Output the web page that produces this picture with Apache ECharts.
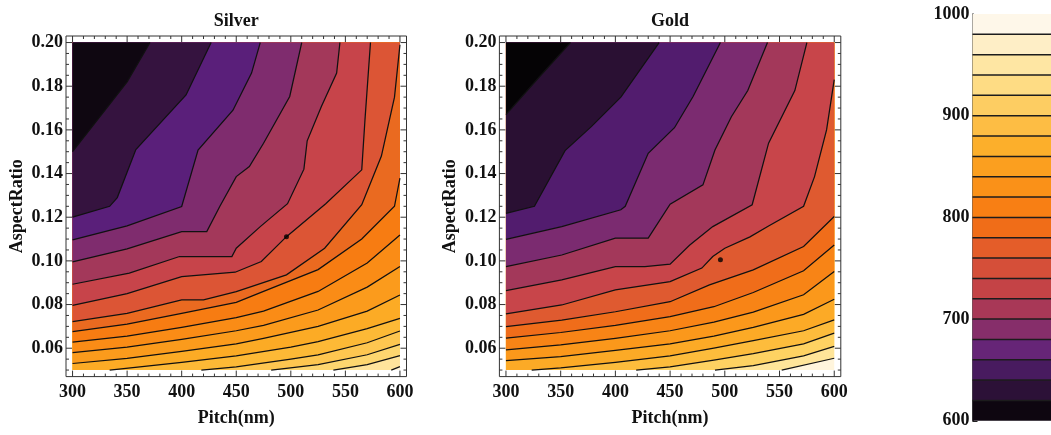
<!DOCTYPE html>
<html>
<head>
<meta charset="utf-8">
<script src="https://cdn.jsdelivr.net/npm/echarts@6/dist/echarts.min.js"></script>
<style>
  html, body { margin: 0; padding: 0; background: #fff; }
  #chart { width: 1051px; height: 435px; }
</style>
</head>
<body>
<div id="chart"></div>
<script>
// ---- axis ticks ----
const pitchMajor = [300, 350, 400, 450, 500, 550, 600];
const pitchMinor = [310, 320, 330, 340, 360, 370, 380, 390, 410, 420, 430, 440, 460, 470, 480, 490,
                    510, 520, 530, 540, 560, 570, 580, 590];
const ratioMajor = [0.06, 0.08, 0.10, 0.12, 0.14, 0.16, 0.18, 0.20];
const ratioMinor = [0.05, 0.055, 0.065, 0.07, 0.075, 0.085, 0.09, 0.095, 0.105, 0.11, 0.115,
                    0.125, 0.13, 0.135, 0.145, 0.15, 0.155, 0.165, 0.17, 0.175, 0.185, 0.19, 0.195];
const legendTicks = [600, 700, 800, 900, 1000];

// ---- contour lines: [pitch, aspect ratio] vertices, one list per level ----
const silverLines = [
  [[300,0.150],[350,0.182],[371,0.200]],
  [[300,0.120],[334,0.125],[341,0.129],[358,0.151],[404,0.176],[427,0.200]],
  [[300,0.1096],[350,0.1160],[400,0.1249],[415,0.1508],[447,0.1690],[464,0.1860],[472,0.200]],
  [[300,0.0995],[350,0.1055],[400,0.1134],[423,0.1134],[435,0.1250],[450,0.1386],[462,0.1432],[475,0.1539],[499,0.1753],[510,0.200]],
  [[300,0.0893],[352,0.0944],[398,0.1020],[446,0.1020],[450,0.1058],[472,0.1157],[497,0.1262],[512,0.1420],[515,0.1550],[528,0.1707],[542,0.1860],[545,0.200]],
  [[300,0.0796],[350,0.0850],[400,0.0928],[449,0.0948],[473,0.0997],[496,0.1111],[532,0.1262],[565,0.1417],[568,0.1650],[573,0.200]],
  [[300,0.0722],[350,0.0760],[400,0.0821],[420,0.0821],[450,0.0859],[496,0.0936],[531,0.1058],[565,0.1257],[583,0.1480],[595,0.1750],[600,0.1990]],
  [[300,0.0676],[350,0.0710],[400,0.0760],[450,0.0810],[475,0.0860],[525,0.0960],[565,0.1100],[595,0.1250],[600,0.1379]],
  [[300,0.0628],[350,0.0655],[400,0.0695],[450,0.0740],[475,0.0770],[525,0.0860],[570,0.0990],[600,0.1119]],
  [[300,0.0580],[350,0.0605],[400,0.0640],[450,0.0680],[475,0.0705],[525,0.0775],[570,0.0880],[600,0.0974]],
  [[300,0.0530],[350,0.0553],[400,0.0585],[450,0.0620],[475,0.0645],[525,0.0700],[570,0.0770],[600,0.0844]],
  [[334,0.050],[400,0.0535],[450,0.0565],[500,0.0605],[525,0.0630],[570,0.0690],[600,0.0737]],
  [[418,0.050],[450,0.0515],[500,0.0550],[525,0.0570],[570,0.0625],[600,0.0679]],
  [[482,0.050],[525,0.0525],[570,0.0570],[600,0.0618]],
  [[539,0.050],[570,0.0525],[600,0.0566]],
  [[592,0.050],[600,0.0516]]
];

const goldLines = [
  [[300,0.167],[330,0.184],[359,0.200]],
  [[300,0.1218],[326,0.1250],[354,0.1505],[378,0.1615],[405,0.1750],[440,0.200]],
  [[300,0.1099],[351,0.1157],[405,0.1234],[409,0.1250],[430,0.1493],[454,0.1610],[471,0.1753],[496,0.200]],
  [[300,0.0974],[351,0.1027],[400,0.1104],[430,0.1104],[450,0.1260],[480,0.1348],[491,0.1508],[506,0.1660],[521,0.1780],[539,0.200]],
  [[300,0.0864],[351,0.0913],[400,0.0974],[427,0.0974],[450,0.0985],[468,0.1073],[489,0.1157],[525,0.1257],[540,0.1539],[564,0.1780],[575,0.200]],
  [[300,0.0757],[351,0.0798],[400,0.0867],[450,0.0905],[479,0.0967],[489,0.1020],[500,0.1058],[523,0.1110],[540,0.1160],[572,0.1250],[582,0.1386],[593,0.1600],[600,0.1830]],
  [[300,0.0699],[351,0.0729],[400,0.0767],[450,0.0813],[486,0.0890],[526,0.0959],[572,0.1066],[600,0.1203]],
  [[300,0.0646],[350,0.0672],[400,0.0705],[450,0.0745],[490,0.0790],[526,0.0855],[572,0.0955],[600,0.1073]],
  [[300,0.0592],[350,0.0615],[400,0.0645],[450,0.0680],[490,0.0720],[526,0.0765],[572,0.0845],[600,0.0951]],
  [[300,0.0543],[350,0.0562],[400,0.0590],[450,0.0620],[490,0.0655],[526,0.0695],[572,0.0755],[600,0.0824]],
  [[323.5,0.050],[350,0.0510],[400,0.0535],[450,0.0565],[490,0.0600],[526,0.0635],[572,0.0680],[600,0.0730]],
  [[419,0.050],[450,0.0515],[490,0.0545],[526,0.0575],[572,0.0620],[600,0.0669]],
  [[491,0.050],[526,0.0520],[572,0.0565],[600,0.0608]],
  [[552,0.050],[600,0.0554]]
];

// marked points
const silverDot = [[496, 0.111]];
const goldDot = [[496, 0.1005]];

// ---- colours ----
const silverBands = ['#0f0711','#35133f','#5a1f7a','#7f2c6e','#a3385a','#c7444a','#dc5535','#ea6a20',
  '#f77c12','#fa8c16','#fb9b1c','#fcab25','#fdb936','#fec650','#fed66f','#ffe49c','#fff3d6'];
const goldBands = ['#050305','#2a1033','#521c6e','#7b2b70','#a3385a','#c8454a','#df5a30','#f06d1a',
  '#f88416','#fb981b','#fcaa26','#fdbc3c','#fed262','#ffe599','#fff5dc'];

const legendLevels = [600,620,640,660,680,700,720,740,760,780,800,820,840,860,880,900,920,940,960,980,1000];
const legendColors = ['#0e0610','#2c1137','#481b5f','#662577','#862e6a','#a83857','#c44346','#d54f39',
  '#e45d29','#f06d18','#f87f14','#fa9118','#fb9f1f','#fcaf2b','#fdbd44','#fdcd62','#fedc84','#fee6a3',
  '#feeec6','#fef7e9'];

// ---- layout constants ----
const P0 = 300, P1 = 600, R0 = 0.05, R1 = 0.20;          // data extent
const PX0 = 294, PX1 = 606, RY0 = 0.047, RY1 = 0.203;     // frame extent
const FONT = 'Liberation Serif';
const labelStyle = { fontFamily: FONT, fontWeight: 'bold', fontSize: 18, color: '#111' };

// region on the low-value (upper-left) side of a contour line
function regionAbove(line) {
  const pts = line.slice();
  const s = line[0], e = line[line.length - 1];
  if (e[0] >= P1 && e[1] < R1) pts.push([P1, R1]);
  pts.push([P0, R1]);
  if (s[0] > P0) pts.push([P0, R0]);
  return pts;
}

function contourSeries(gi, lines, bands) {
  return {
    type: 'custom', xAxisIndex: gi * 2, yAxisIndex: gi, silent: true, z: 2,
    data: [[0]],
    renderItem: function (params, api) {
      const c = p => api.coord(p);
      const children = [];
      const n = lines.length;
      children.push({ type: 'polygon',
        shape: { points: [[P0, R0], [P1, R0], [P1, R1], [P0, R1]].map(c) },
        style: { fill: bands[n] } });
      for (let i = n - 1; i >= 0; i--) {
        children.push({ type: 'polygon', shape: { points: regionAbove(lines[i]).map(c) },
          style: { fill: bands[i] } });
      }
      for (let i = 0; i < n; i++) {
        children.push({ type: 'polyline', shape: { points: lines[i].map(c) },
          style: { stroke: '#111', lineWidth: 1.25, fill: null } });
      }
      return { type: 'group', children: children };
    }
  };
}

// frame with inward ticks on all four sides
function frameSeries(gi) {
  return {
    type: 'custom', xAxisIndex: gi * 2, yAxisIndex: gi, silent: true, z: 5,
    data: [[0]],
    renderItem: function (params, api) {
      const bl = api.coord([PX0, RY0]), tr = api.coord([PX1, RY1]);
      const L = bl[0], R = tr[0], B = bl[1], T = tr[1];
      const st = { stroke: '#333', lineWidth: 1 };
      const kids = [{ type: 'rect', shape: { x: L, y: T, width: R - L, height: B - T },
        style: { stroke: '#333', lineWidth: 1, fill: null } }];
      const xt = (v, len) => {
        const x = api.coord([v, RY0])[0];
        kids.push({ type: 'line', shape: { x1: x, y1: B, x2: x, y2: B - len }, style: st });
        kids.push({ type: 'line', shape: { x1: x, y1: T, x2: x, y2: T + len }, style: st });
      };
      const yt = (v, len) => {
        const y = api.coord([PX0, v])[1];
        kids.push({ type: 'line', shape: { x1: L, y1: y, x2: L + len, y2: y }, style: st });
        kids.push({ type: 'line', shape: { x1: R, y1: y, x2: R - len, y2: y }, style: st });
      };
      pitchMajor.forEach(v => xt(v, 6));
      pitchMinor.forEach(v => xt(v, 3));
      ratioMajor.forEach(v => yt(v, 6));
      ratioMinor.forEach(v => yt(v, 3));
      return { type: 'group', children: kids };
    }
  };
}

function panelAxes(gi, title) {
  const base = { gridIndex: gi, type: 'value', min: PX0, max: PX1,
    splitLine: { show: false }, axisLine: { show: false }, axisTick: { show: false } };
  return {
    x: [
      Object.assign({}, base, { position: 'bottom',
        axisLabel: Object.assign({ customValues: pitchMajor, margin: 7 }, labelStyle),
        name: 'Pitch(nm)', nameLocation: 'middle', nameGap: 33, nameTextStyle: labelStyle }),
      Object.assign({}, base, { position: 'top', axisLabel: { show: false },
        name: title, nameLocation: 'middle', nameGap: 6, nameTextStyle: labelStyle })
    ],
    y: {
      gridIndex: gi, type: 'value', min: RY0, max: RY1,
      splitLine: { show: false }, axisLine: { show: false }, axisTick: { show: false },
      axisLabel: Object.assign({ customValues: ratioMajor, margin: 3,
        formatter: v => Number(v).toFixed(2) }, labelStyle),
      name: 'AspectRatio', nameLocation: 'middle', nameGap: 40, nameRotate: 90,
      nameTextStyle: labelStyle
    }
  };
}

const silverAx = panelAxes(0, 'Silver');
const goldAx = panelAxes(1, 'Gold');

const option = {
  animation: false,
  backgroundColor: '#ffffff',
  grid: [
    { left: 66, top: 36, width: 340.5, height: 340.6 },
    { left: 499.4, top: 36, width: 341.4, height: 340.6 },
    { left: 972.5, top: 14, width: 120, height: 406.8 }
  ],
  xAxis: [
    silverAx.x[0], silverAx.x[1], goldAx.x[0], goldAx.x[1],
    { gridIndex: 2, type: 'value', min: 0, max: 1, show: false }
  ],
  yAxis: [
    silverAx.y, goldAx.y,
    { gridIndex: 2, type: 'value', min: 600, max: 1000, interval: 100,
      splitLine: { show: false },
      axisLine: { show: true, lineStyle: { color: '#222', width: 1.5 } },
      axisTick: { show: true, inside: true, length: 5, lineStyle: { color: '#222' } },
      axisLabel: Object.assign({ margin: 3, customValues: legendTicks,
        formatter: v => String(Math.round(v)) }, labelStyle) }
  ],
  series: [
    contourSeries(0, silverLines, silverBands),
    contourSeries(1, goldLines, goldBands),
    frameSeries(0),
    frameSeries(1),
    { type: 'scatter', xAxisIndex: 0, yAxisIndex: 0, data: silverDot, symbolSize: 5,
      itemStyle: { color: '#000' }, silent: true, z: 4 },
    { type: 'scatter', xAxisIndex: 2, yAxisIndex: 1, data: goldDot, symbolSize: 5,
      itemStyle: { color: '#000' }, silent: true, z: 4 },
    {
      type: 'custom', xAxisIndex: 4, yAxisIndex: 2, silent: true, z: 1,
      data: [[0]],
      renderItem: function (params, api) {
        const kids = [];
        for (let i = 0; i < legendColors.length; i++) {
          const a = api.coord([0, legendLevels[i]]), b = api.coord([1, legendLevels[i + 1]]);
          kids.push({ type: 'rect', shape: { x: a[0], y: b[1], width: b[0] - a[0], height: a[1] - b[1] },
            style: { fill: legendColors[i] } });
        }
        for (let i = 1; i < legendLevels.length - 1; i++) {
          const a = api.coord([0, legendLevels[i]]), b = api.coord([1, legendLevels[i]]);
          kids.push({ type: 'line', shape: { x1: a[0], y1: a[1], x2: b[0], y2: b[1] },
            style: { stroke: '#1c1c1c', lineWidth: 1.5 } });
        }
        return { type: 'group', children: kids };
      }
    }
  ]
};

const chart = echarts.init(document.getElementById('chart'), null, { renderer: 'canvas' });
chart.setOption(option);
</script>
</body>
</html>
